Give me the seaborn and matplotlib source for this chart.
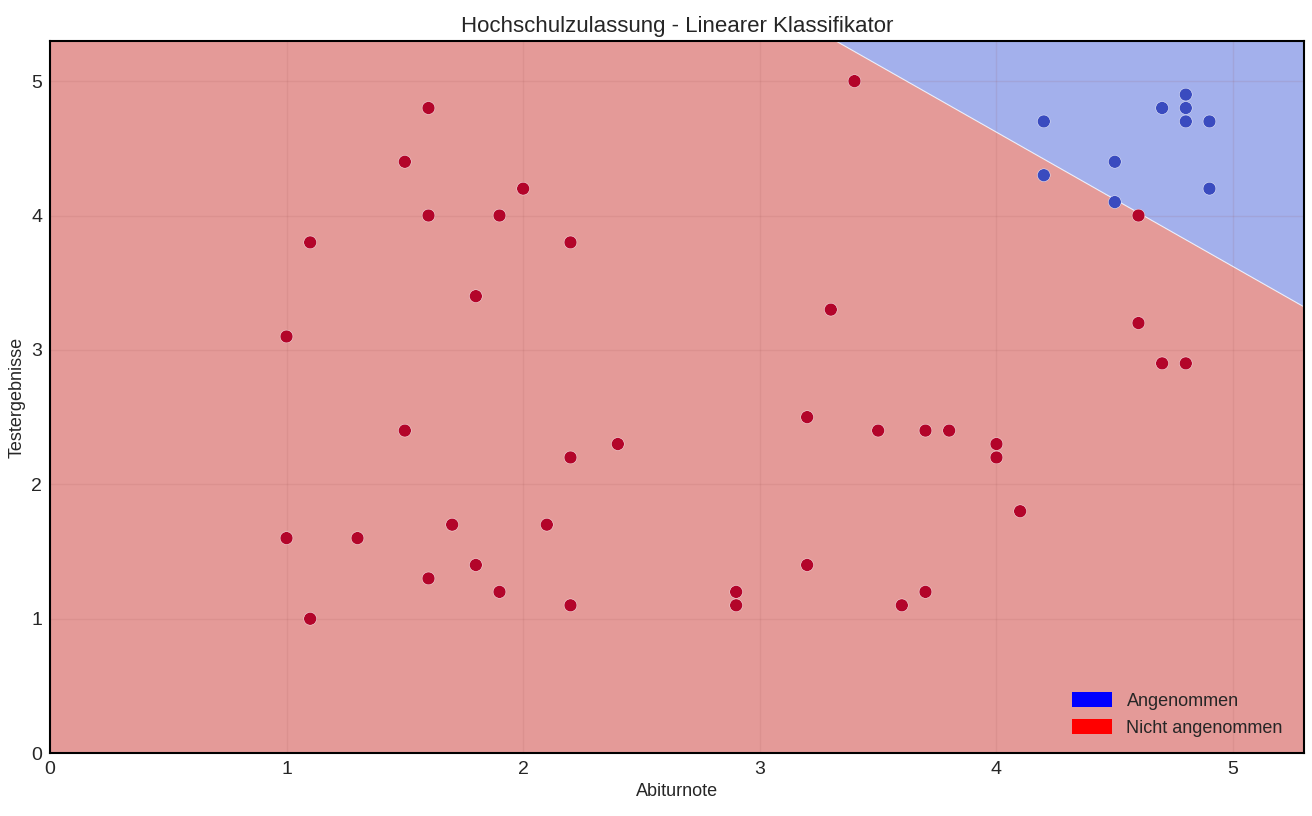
import numpy as np
import pandas as pd
import seaborn as sns
import matplotlib.pyplot as plt
from matplotlib.patches import Patch

# admitted (blue) students
abi_yes = [4.8, 4.7, 4.8, 4.2, 4.8, 4.9, 4.5, 4.2, 4.9, 4.5]
test_yes = [4.9, 4.8, 4.8, 4.7, 4.7, 4.7, 4.4, 4.3, 4.2, 4.1]

# rejected (red) students
abi_no = [3.4, 1.6, 1.5, 2.0, 1.6, 1.9, 1.1, 2.2, 1.8, 4.6, 3.3, 4.6, 1.0,
          4.7, 4.8, 3.2, 1.5, 3.5, 3.7, 3.8, 2.4, 4.0, 2.2, 4.0, 4.1, 1.7,
          2.1, 1.0, 1.3, 1.8, 3.2, 1.6, 1.9, 2.9, 3.7, 2.2, 2.9, 3.6, 1.1]
test_no = [5.0, 4.8, 4.4, 4.2, 4.0, 4.0, 3.8, 3.8, 3.4, 4.0, 3.3, 3.2, 3.1,
           2.9, 2.9, 2.5, 2.4, 2.4, 2.4, 2.4, 2.3, 2.3, 2.2, 2.2, 1.8, 1.7,
           1.7, 1.6, 1.6, 1.4, 1.4, 1.3, 1.2, 1.2, 1.2, 1.1, 1.1, 1.1, 1.0]

# linear classifier: w1*x + w2*y + b > 0 -> admitted
w1, w2, b = 1.0, 1.0, -8.62
xmax, ymax = 5.3, 5.3

df = pd.DataFrame({
    'Abiturnote': abi_yes + abi_no,
    'Testergebnisse': test_yes + test_no,
    'label': [1] * len(abi_yes) + [0] * len(abi_no),
})

sns.set_style("white")
plt.rcParams['font.family'] = ['Liberation Sans', 'DejaVu Sans']

pt_blue, pt_red = '#3a4bbf', '#b3052a'
bg_blue, bg_red = '#a3b0ec', '#e49a98'

fig = plt.figure(figsize=(13.12, 8.16), dpi=100)
ax = fig.add_axes([0.038, 0.077, 0.956, 0.873])

xx, yy = np.meshgrid(np.linspace(0, xmax, 600), np.linspace(0, ymax, 600))
Z = (w1 * xx + w2 * yy + b > 0).astype(float)
ax.contourf(xx, yy, Z, levels=[-0.5, 0.5, 1.5], colors=[bg_red, bg_blue])
ax.contour(xx, yy, w1 * xx + w2 * yy + b, levels=[0], colors='white', linewidths=0.8, alpha=0.8)

sns.scatterplot(data=df, x='Abiturnote', y='Testergebnisse', hue='label',
                palette={0: pt_red, 1: pt_blue}, s=85, edgecolor='white', linewidth=0.3,
                legend=False, ax=ax, zorder=3)

ax.set_xlim(0, xmax)
ax.set_ylim(0, ymax)
ax.set_xticks(range(0, 6))
ax.set_yticks(range(0, 6))
ax.set_axisbelow('line')
ax.grid(True, color='#9a5050', alpha=0.12, linewidth=1)
for sp in ax.spines.values():
    sp.set_color('black')
    sp.set_linewidth(1.5)
ax.tick_params(labelsize=14, pad=2)

ax.set_title('Hochschulzulassung - Linearer Klassifikator', fontsize=16, pad=6)
ax.set_xlabel('Abiturnote', fontsize=13, labelpad=4)
ax.set_ylabel('Testergebnisse', fontsize=13, labelpad=4)

handles = [Patch(facecolor='blue', edgecolor='none', label='Angenommen'),
           Patch(facecolor='red', edgecolor='none', label='Nicht angenommen')]
ax.legend(handles=handles, loc='lower right', bbox_to_anchor=(0.996, 0.0),
          frameon=False, fontsize=13, handlelength=2.2, handleheight=0.9,
          borderaxespad=0.5)

plt.savefig('out.png', dpi=100)
